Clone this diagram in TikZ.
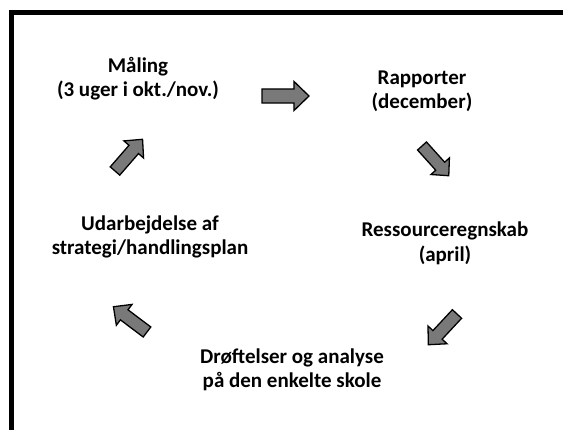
\documentclass[tikz,border=0pt]{standalone}
\usepackage{fontspec}
\setmainfont{Carlito}
\tikzset{
  lbl/.style={align=center, inner sep=0pt, font=\fontsize{21}{24.5}\selectfont\bfseries},
  arrowfill/.style={draw=black, fill=gray!95!black, line width=1.3pt, line join=miter},
  pics/barrow/.style={code={
    \path[arrowfill] (0,-#1*0.15) -- (#1*0.68,-#1*0.15) -- (#1*0.68,-#1*0.31) -- (#1,0)
      -- (#1*0.68,#1*0.31) -- (#1*0.68,#1*0.15) -- (0,#1*0.15) -- cycle;
  }}
}
\begin{document}
\begin{tikzpicture}[x=1pt,y=-1pt]
\useasboundingbox (0,0) rectangle (563,430);
% frame (only top and left edges visible)
\draw[line width=5pt] (11.5,440) -- (11.5,12.5) -- (570,12.5);
% labels
\node[lbl] (m) at (138,78.5) {Måling\\(3 uger i okt./nov.)};
\node[lbl] (r) at (422,91.5) {Rapporter\\(december)};
\node[lbl] (s) at (445,243.5) {Ressourceregnskab\\(april)};
\node[lbl] (d) at (292,370) {Drøftelser og analyse\\på den enkelte skole};
\node[lbl] (u) at (150,237) {Udarbejdelse af\\strategi/handlingsplan};
% block arrows
\pic at (262,96) {barrow=47};
\pic[rotate=-48] at (422,146) {barrow=40};
\pic[rotate=-133] at (457,314) {barrow=42};
\pic[rotate=143] at (147,332) {barrow=42};
\pic[rotate=49] at (115,171) {barrow=42};
\end{tikzpicture}
\end{document}
